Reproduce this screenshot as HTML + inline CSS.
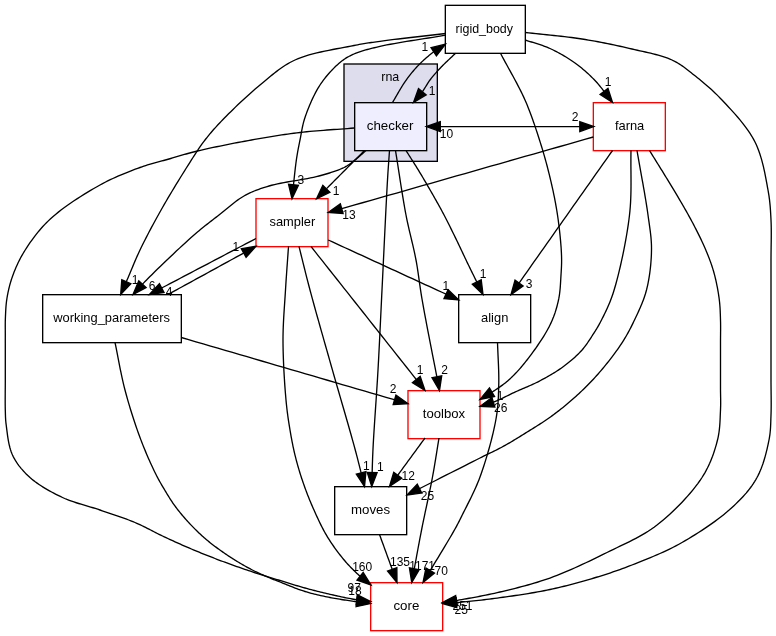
<!DOCTYPE html>
<html><head><meta charset="utf-8"><title>rna/checker directory dependency graph</title>
<style>html,body{margin:0;padding:0;background:#fff}svg{display:block;will-change:transform}text{font-family:"Liberation Sans",Arial,Helvetica,sans-serif;fill:#000}</style></head><body>
<svg width="776" height="636" viewBox="0 0 776 636">
<rect width="776" height="636" fill="#fff"/>
<rect x="344.00" y="64.00" width="93.33" height="97.33" fill="#ddddee" stroke="#000" stroke-width="1.333"/>
<text x="390.3" y="80.5" font-size="13.33" text-anchor="middle" textLength="18" lengthAdjust="spacingAndGlyphs">rna</text>
<rect x="445.33" y="5.33" width="80.00" height="48.00" fill="#fff" stroke="#000" stroke-width="1.333"/>
<text x="484.3" y="32.9" font-size="13.33" text-anchor="middle" textLength="57.4" lengthAdjust="spacingAndGlyphs">rigid_body</text>
<rect x="354.67" y="102.67" width="72.00" height="48.00" fill="#eeeeff" stroke="#000" stroke-width="1.333"/>
<text x="390.1" y="129.6" font-size="13.33" text-anchor="middle" textLength="46.7" lengthAdjust="spacingAndGlyphs">checker</text>
<rect x="593.33" y="102.67" width="72.00" height="48.00" fill="#fff" stroke="#f00" stroke-width="1.333"/>
<text x="629.6" y="129.6" font-size="13.33" text-anchor="middle" textLength="29.4" lengthAdjust="spacingAndGlyphs">farna</text>
<rect x="256.00" y="198.67" width="72.00" height="48.00" fill="#fff" stroke="#f00" stroke-width="1.333"/>
<text x="292.4" y="225.6" font-size="13.33" text-anchor="middle" textLength="45.8" lengthAdjust="spacingAndGlyphs">sampler</text>
<rect x="42.67" y="294.67" width="138.66" height="48.00" fill="#fff" stroke="#000" stroke-width="1.333"/>
<text x="111.6" y="321.6" font-size="13.33" text-anchor="middle" textLength="116.7" lengthAdjust="spacingAndGlyphs">working_parameters</text>
<rect x="458.67" y="294.67" width="72.00" height="48.00" fill="#fff" stroke="#000" stroke-width="1.333"/>
<text x="494.7" y="321.6" font-size="13.33" text-anchor="middle" textLength="27.3" lengthAdjust="spacingAndGlyphs">align</text>
<rect x="408.00" y="390.67" width="72.00" height="48.00" fill="#fff" stroke="#f00" stroke-width="1.333"/>
<text x="443.9" y="417.6" font-size="13.33" text-anchor="middle" textLength="42.3" lengthAdjust="spacingAndGlyphs">toolbox</text>
<rect x="334.67" y="486.67" width="72.00" height="48.00" fill="#fff" stroke="#000" stroke-width="1.333"/>
<text x="370.6" y="513.6" font-size="13.33" text-anchor="middle" textLength="39.1" lengthAdjust="spacingAndGlyphs">moves</text>
<rect x="370.67" y="582.67" width="72.00" height="48.00" fill="#fff" stroke="#f00" stroke-width="1.333"/>
<text x="406.4" y="609.8" font-size="13.33" text-anchor="middle" textLength="25.9" lengthAdjust="spacingAndGlyphs">core</text>
<g fill="none" stroke="#000" stroke-width="1.333">
<path d="M455.50,53.30 L454.56,54.20 L453.62,55.10 L452.66,56.01 L451.70,56.91 L450.74,57.82 L449.78,58.72 L448.81,59.63 L447.86,60.53 L446.90,61.44 L445.96,62.34 L445.03,63.24 L444.11,64.14 L443.20,65.03 L442.31,65.93 L441.45,66.81 L440.60,67.70 L439.87,68.48 L439.14,69.26 L438.43,70.03 L437.72,70.80 L437.02,71.57 L436.33,72.33 L435.66,73.10 L434.99,73.86 L434.33,74.63 L433.68,75.39 L433.04,76.15 L432.41,76.92 L431.80,77.69 L431.19,78.46 L430.59,79.23 L430.00,80.00 L429.47,80.72 L428.97,81.43 L428.48,82.15 L428.00,82.88 L427.54,83.60 L427.09,84.33 L426.64,85.06 L426.20,85.78 L425.76,86.51 L425.32,87.23 L424.87,87.95 L424.42,88.67 L423.96,89.38 L423.49,90.09 L423.00,90.80 L422.50,91.50 L422.37,91.67"/>
<polygon fill="#000" points="418.54,88.53 413.50,102.50 426.20,94.81"/>
<path d="M392.50,102.50 L393.33,101.12 L394.15,99.73 L394.98,98.33 L395.79,96.92 L396.61,95.50 L397.43,94.09 L398.25,92.67 L399.07,91.26 L399.89,89.86 L400.72,88.48 L401.55,87.10 L402.38,85.75 L403.23,84.42 L404.08,83.12 L404.93,81.84 L405.80,80.60 L406.57,79.52 L407.35,78.46 L408.12,77.42 L408.90,76.39 L409.68,75.38 L410.46,74.39 L411.25,73.40 L412.04,72.43 L412.84,71.47 L413.64,70.53 L414.46,69.59 L415.29,68.66 L416.12,67.74 L416.97,66.82 L417.83,65.91 L418.70,65.00 L419.59,64.09 L420.51,63.18 L421.44,62.28 L422.39,61.38 L423.35,60.49 L424.33,59.60 L425.31,58.72 L426.29,57.86 L427.28,57.01 L428.26,56.17 L429.24,55.36 L430.22,54.56 L431.18,53.78 L432.14,53.03 L433.08,52.30 L433.74,51.80"/>
<polygon fill="#000" points="436.43,55.95 445.50,44.20 431.05,47.64"/>
<path d="M445.50,35.20 L441.35,35.90 L437.11,36.59 L432.79,37.29 L428.42,37.98 L424.02,38.67 L419.61,39.36 L415.22,40.05 L410.86,40.75 L406.56,41.44 L402.35,42.14 L398.24,42.84 L394.25,43.54 L390.41,44.25 L386.74,44.96 L383.26,45.68 L380.00,46.40 L378.02,46.86 L376.10,47.31 L374.23,47.75 L372.42,48.19 L370.66,48.62 L368.95,49.06 L367.29,49.50 L365.67,49.94 L364.09,50.40 L362.55,50.86 L361.05,51.34 L359.58,51.83 L358.14,52.34 L356.74,52.87 L355.36,53.42 L354.00,54.00 L352.98,54.46 L351.99,54.91 L351.05,55.36 L350.13,55.80 L349.24,56.26 L348.38,56.72 L347.53,57.19 L346.70,57.68 L345.88,58.18 L345.06,58.71 L344.24,59.26 L343.42,59.84 L342.59,60.45 L341.74,61.09 L340.88,61.78 L340.00,62.50 L338.77,63.55 L337.52,64.66 L336.24,65.84 L334.94,67.07 L333.64,68.36 L332.32,69.71 L331.01,71.09 L329.70,72.52 L328.40,73.99 L327.11,75.50 L325.85,77.03 L324.61,78.59 L323.40,80.17 L322.22,81.77 L321.09,83.38 L320.00,85.00 L318.85,86.81 L317.72,88.70 L316.61,90.65 L315.52,92.66 L314.46,94.71 L313.43,96.80 L312.42,98.91 L311.45,101.04 L310.51,103.18 L309.60,105.31 L308.73,107.43 L307.90,109.53 L307.11,111.59 L306.36,113.62 L305.66,115.59 L305.00,117.50 L304.51,119.00 L304.07,120.48 L303.66,121.94 L303.28,123.39 L302.93,124.83 L302.61,126.25 L302.31,127.66 L302.03,129.06 L301.77,130.45 L301.51,131.84 L301.26,133.21 L301.02,134.58 L300.77,135.94 L300.52,137.30 L300.27,138.65 L300.00,140.00 L299.75,141.22 L299.51,142.40 L299.28,143.56 L299.05,144.69 L298.82,145.81 L298.60,146.93 L298.38,148.04 L298.17,149.15 L297.95,150.28 L297.74,151.42 L297.54,152.59 L297.33,153.79 L297.12,155.02 L296.92,156.30 L296.71,157.62 L296.50,159.00 L296.20,161.08 L295.91,163.27 L295.62,165.55 L295.33,167.91 L295.05,170.34 L294.77,172.83 L294.49,175.38 L294.21,177.96 L293.93,180.57 L293.66,183.20 L293.49,184.83"/>
<polygon fill="#000" points="288.57,184.30 292.00,198.75 298.41,185.36"/>
<path d="M445.50,33.50 L441.35,33.99 L437.11,34.48 L432.79,34.98 L428.43,35.48 L424.03,35.98 L419.63,36.49 L415.24,36.99 L410.88,37.49 L406.59,37.99 L402.38,38.48 L398.26,38.97 L394.28,39.45 L390.43,39.92 L386.76,40.39 L383.27,40.85 L380.00,41.30 L378.07,41.57 L376.25,41.82 L374.53,42.06 L372.90,42.29 L371.34,42.51 L369.83,42.73 L368.35,42.95 L366.89,43.17 L365.44,43.40 L363.97,43.64 L362.48,43.89 L360.94,44.16 L359.34,44.46 L357.66,44.78 L355.88,45.12 L354.00,45.50 L350.92,46.11 L347.62,46.73 L344.12,47.38 L340.46,48.05 L336.67,48.75 L332.77,49.49 L328.80,50.28 L324.79,51.11 L320.77,51.99 L316.77,52.92 L312.83,53.92 L308.97,54.98 L305.23,56.12 L301.63,57.33 L298.21,58.62 L295.00,60.00 L292.44,61.23 L289.98,62.52 L287.60,63.87 L285.29,65.27 L283.05,66.72 L280.87,68.22 L278.73,69.77 L276.62,71.35 L274.55,72.97 L272.49,74.62 L270.44,76.30 L268.39,78.00 L266.33,79.73 L264.25,81.47 L262.15,83.23 L260.00,85.00 L257.61,86.98 L255.17,89.05 L252.70,91.18 L250.21,93.38 L247.71,95.63 L245.21,97.90 L242.72,100.21 L240.24,102.52 L237.80,104.84 L235.41,107.14 L233.06,109.41 L230.78,111.65 L228.57,113.84 L226.45,115.97 L224.42,118.03 L222.50,120.00 L221.18,121.37 L219.90,122.71 L218.67,124.03 L217.47,125.32 L216.30,126.59 L215.17,127.84 L214.06,129.07 L212.98,130.30 L211.93,131.51 L210.90,132.72 L209.88,133.93 L208.89,135.13 L207.90,136.34 L206.93,137.55 L205.96,138.77 L205.00,140.00 L204.16,141.09 L203.37,142.14 L202.61,143.17 L201.87,144.18 L201.16,145.18 L200.46,146.17 L199.77,147.17 L199.08,148.18 L198.40,149.21 L197.70,150.26 L196.99,151.34 L196.26,152.47 L195.50,153.64 L194.71,154.86 L193.87,156.15 L193.00,157.50 L191.45,159.91 L189.78,162.52 L188.01,165.30 L186.16,168.24 L184.24,171.30 L182.27,174.48 L180.25,177.74 L178.20,181.07 L176.14,184.44 L174.08,187.84 L172.03,191.24 L170.02,194.62 L168.04,197.95 L166.12,201.23 L164.27,204.42 L162.50,207.50 L160.95,210.24 L159.40,212.99 L157.87,215.74 L156.35,218.49 L154.85,221.23 L153.36,223.96 L151.90,226.68 L150.46,229.38 L149.04,232.06 L147.65,234.72 L146.29,237.36 L144.96,239.96 L143.67,242.53 L142.41,245.06 L141.18,247.55 L140.00,250.00 L139.07,251.96 L138.17,253.92 L137.29,255.87 L136.43,257.80 L135.59,259.73 L134.77,261.63 L133.98,263.51 L133.20,265.37 L132.44,267.20 L131.69,269.00 L130.96,270.77 L130.24,272.50 L129.54,274.19 L128.85,275.84 L128.17,277.44 L127.50,279.00 L127.02,280.10 L126.55,281.17 L126.33,281.68"/>
<polygon fill="#000" points="121.80,279.69 120.70,294.50 130.86,283.67"/>
<path d="M525.30,40.00 L526.85,40.52 L528.39,41.03 L529.94,41.52 L531.50,42.00 L533.05,42.48 L534.60,42.96 L536.16,43.44 L537.71,43.93 L539.26,44.42 L540.80,44.94 L542.35,45.46 L543.89,46.01 L545.42,46.59 L546.96,47.19 L548.48,47.83 L550.00,48.50 L551.60,49.24 L553.20,50.01 L554.81,50.81 L556.42,51.63 L558.03,52.48 L559.63,53.35 L561.23,54.24 L562.83,55.15 L564.41,56.08 L565.98,57.03 L567.53,57.99 L569.07,58.97 L570.59,59.96 L572.08,60.97 L573.56,61.98 L575.00,63.00 L576.36,63.99 L577.71,64.99 L579.03,66.01 L580.34,67.04 L581.64,68.08 L582.91,69.14 L584.18,70.21 L585.43,71.29 L586.66,72.39 L587.89,73.50 L589.10,74.63 L590.30,75.77 L591.49,76.93 L592.67,78.10 L593.84,79.29 L595.00,80.50 L596.18,81.76 L597.34,83.06 L598.47,84.37 L599.59,85.71 L600.70,87.08 L601.79,88.45 L602.87,89.84 L603.94,91.25 L604.03,91.36"/>
<polygon fill="#000" points="600.09,94.35 612.50,102.50 607.97,88.36"/>
<path d="M500.50,53.30 L502.05,56.22 L503.62,59.15 L505.22,62.09 L506.83,65.03 L508.45,67.97 L510.07,70.91 L511.69,73.85 L513.30,76.79 L514.89,79.73 L516.46,82.65 L517.99,85.57 L519.49,88.49 L520.95,91.39 L522.36,94.27 L523.71,97.14 L525.00,100.00 L526.11,102.55 L527.18,105.09 L528.21,107.63 L529.21,110.15 L530.18,112.66 L531.12,115.17 L532.03,117.67 L532.92,120.17 L533.79,122.66 L534.64,125.14 L535.47,127.62 L536.29,130.10 L537.11,132.58 L537.91,135.05 L538.71,137.53 L539.50,140.00 L540.25,142.36 L540.99,144.72 L541.71,147.07 L542.43,149.42 L543.12,151.76 L543.81,154.10 L544.48,156.44 L545.14,158.78 L545.79,161.11 L546.42,163.45 L547.05,165.78 L547.66,168.12 L548.26,170.46 L548.85,172.80 L549.43,175.15 L550.00,177.50 L550.55,179.83 L551.10,182.16 L551.64,184.49 L552.16,186.82 L552.68,189.14 L553.18,191.47 L553.67,193.80 L554.15,196.14 L554.62,198.47 L555.07,200.81 L555.52,203.16 L555.94,205.51 L556.35,207.87 L556.75,210.24 L557.13,212.61 L557.50,215.00 L557.86,217.48 L558.22,220.02 L558.56,222.60 L558.89,225.21 L559.21,227.84 L559.52,230.49 L559.81,233.13 L560.08,235.76 L560.33,238.36 L560.57,240.93 L560.78,243.46 L560.98,245.92 L561.15,248.32 L561.29,250.64 L561.41,252.87 L561.50,255.00 L561.55,256.43 L561.58,257.81 L561.60,259.14 L561.61,260.43 L561.60,261.68 L561.59,262.90 L561.56,264.10 L561.52,265.29 L561.48,266.47 L561.43,267.64 L561.37,268.82 L561.30,270.01 L561.23,271.21 L561.16,272.44 L561.08,273.70 L561.00,275.00 L560.91,276.49 L560.82,278.00 L560.74,279.53 L560.65,281.07 L560.56,282.63 L560.46,284.20 L560.36,285.78 L560.24,287.37 L560.10,288.96 L559.95,290.55 L559.77,292.14 L559.58,293.73 L559.35,295.31 L559.10,296.89 L558.82,298.45 L558.50,300.00 L558.15,301.58 L557.78,303.14 L557.40,304.69 L557.00,306.24 L556.58,307.78 L556.13,309.31 L555.66,310.85 L555.17,312.39 L554.64,313.93 L554.08,315.47 L553.50,317.03 L552.87,318.59 L552.21,320.17 L551.52,321.76 L550.78,323.37 L550.00,325.00 L548.94,327.10 L547.78,329.26 L546.53,331.48 L545.21,333.74 L543.82,336.03 L542.37,338.33 L540.87,340.65 L539.34,342.96 L537.78,345.25 L536.21,347.53 L534.63,349.76 L533.05,351.95 L531.49,354.08 L529.96,356.14 L528.45,358.11 L527.00,360.00 L525.85,361.46 L524.71,362.89 L523.57,364.29 L522.43,365.66 L521.30,367.00 L520.16,368.32 L519.03,369.60 L517.89,370.86 L516.76,372.09 L515.62,373.29 L514.48,374.47 L513.33,375.62 L512.18,376.75 L511.03,377.86 L509.87,378.94 L508.70,380.00 L507.67,380.90 L506.63,381.79 L505.58,382.65 L504.52,383.48 L503.45,384.30 L502.38,385.10 L501.32,385.88 L500.25,386.64 L499.18,387.39 L498.12,388.12 L497.07,388.83 L496.03,389.53 L495.00,390.22 L493.98,390.89 L492.98,391.55 L492.00,392.20"/>
<polygon fill="#000" points="489.46,387.95 480.00,399.40 494.55,396.44"/>
<path d="M525.30,32.50 L528.85,32.90 L532.41,33.28 L535.99,33.66 L539.57,34.03 L543.15,34.39 L546.73,34.75 L550.32,35.12 L553.89,35.49 L557.46,35.87 L561.02,36.26 L564.57,36.66 L568.10,37.08 L571.61,37.52 L575.10,37.99 L578.56,38.48 L582.00,39.00 L585.23,39.52 L588.46,40.05 L591.68,40.61 L594.88,41.18 L598.08,41.77 L601.27,42.37 L604.44,42.99 L607.59,43.62 L610.72,44.26 L613.84,44.92 L616.93,45.58 L620.00,46.25 L623.04,46.93 L626.06,47.61 L629.04,48.30 L632.00,49.00 L634.66,49.62 L637.33,50.23 L640.00,50.82 L642.67,51.42 L645.32,52.01 L647.97,52.61 L650.58,53.22 L653.17,53.85 L655.72,54.49 L658.23,55.16 L660.69,55.87 L663.09,56.60 L665.43,57.38 L667.70,58.20 L669.89,59.07 L672.00,60.00 L673.62,60.78 L675.17,61.57 L676.66,62.39 L678.09,63.23 L679.49,64.10 L680.84,64.98 L682.17,65.88 L683.47,66.81 L684.76,67.76 L686.04,68.73 L687.32,69.72 L688.61,70.73 L689.91,71.77 L691.24,72.82 L692.60,73.90 L694.00,75.00 L695.69,76.33 L697.40,77.69 L699.13,79.07 L700.86,80.48 L702.61,81.92 L704.36,83.39 L706.13,84.90 L707.89,86.43 L709.66,88.00 L711.43,89.60 L713.20,91.24 L714.97,92.91 L716.74,94.62 L718.50,96.38 L720.25,98.17 L722.00,100.00 L724.11,102.25 L726.28,104.56 L728.50,106.94 L730.75,109.38 L733.01,111.88 L735.28,114.43 L737.54,117.03 L739.77,119.68 L741.96,122.37 L744.10,125.09 L746.17,127.85 L748.16,130.64 L750.05,133.45 L751.83,136.28 L753.48,139.13 L755.00,142.00 L756.34,144.82 L757.58,147.72 L758.73,150.70 L759.79,153.73 L760.77,156.82 L761.68,159.93 L762.52,163.07 L763.30,166.21 L764.02,169.34 L764.69,172.46 L765.32,175.54 L765.91,178.58 L766.46,181.55 L766.99,184.46 L767.50,187.28 L768.00,190.00 L768.36,192.04 L768.69,194.03 L768.99,195.96 L769.25,197.85 L769.49,199.70 L769.70,201.53 L769.89,203.34 L770.06,205.13 L770.22,206.92 L770.35,208.71 L770.48,210.52 L770.59,212.34 L770.70,214.20 L770.80,216.08 L770.90,218.02 L771.00,220.00 L771.10,222.34 L771.18,224.72 L771.23,227.14 L771.26,229.59 L771.27,232.07 L771.27,234.57 L771.26,237.10 L771.23,239.64 L771.20,242.19 L771.16,244.74 L771.12,247.30 L771.09,249.86 L771.05,252.42 L771.03,254.96 L771.01,257.49 L771.00,260.00 L771.00,262.50 L771.00,265.00 L771.00,267.50 L771.00,270.00 L771.00,272.50 L771.00,275.00 L771.00,277.50 L771.00,280.00 L771.00,282.50 L771.00,285.00 L771.00,287.50 L771.00,290.00 L771.00,292.50 L771.00,295.00 L771.00,297.50 L771.00,300.00 L771.00,302.50 L771.00,305.00 L771.00,307.50 L771.00,310.00 L771.00,312.50 L771.00,315.00 L771.00,317.50 L771.00,320.00 L771.00,322.50 L771.00,325.00 L771.00,327.50 L771.00,330.00 L771.00,332.50 L771.00,335.00 L771.00,337.50 L771.00,340.00 L771.00,342.50 L771.00,345.02 L771.00,347.54 L771.00,350.06 L771.00,352.59 L771.00,355.12 L771.00,357.64 L771.00,360.17 L771.00,362.68 L771.00,365.20 L771.00,367.70 L771.00,370.19 L771.00,372.67 L771.00,375.13 L771.00,377.57 L771.00,380.00 L771.00,382.26 L771.02,384.53 L771.04,386.79 L771.06,389.05 L771.09,391.31 L771.11,393.56 L771.14,395.79 L771.16,398.02 L771.18,400.22 L771.19,402.41 L771.19,404.58 L771.18,406.72 L771.16,408.84 L771.12,410.92 L771.07,412.98 L771.00,415.00 L770.94,416.67 L770.88,418.30 L770.83,419.89 L770.79,421.45 L770.74,422.98 L770.68,424.49 L770.61,426.00 L770.54,427.49 L770.44,428.99 L770.32,430.49 L770.18,432.01 L770.02,433.54 L769.82,435.10 L769.58,436.69 L769.31,438.33 L769.00,440.00 L768.56,442.17 L768.10,444.41 L767.59,446.71 L767.05,449.07 L766.47,451.46 L765.85,453.88 L765.19,456.33 L764.48,458.78 L763.73,461.24 L762.93,463.68 L762.07,466.10 L761.17,468.48 L760.21,470.83 L759.20,473.12 L758.13,475.35 L757.00,477.50 L755.82,479.58 L754.59,481.61 L753.31,483.60 L751.98,485.56 L750.60,487.48 L749.16,489.37 L747.68,491.23 L746.15,493.07 L744.56,494.89 L742.92,496.70 L741.23,498.50 L739.49,500.30 L737.70,502.09 L735.85,503.89 L733.95,505.69 L732.00,507.50 L729.45,509.79 L726.77,512.09 L723.95,514.40 L721.03,516.72 L718.01,519.03 L714.90,521.34 L711.72,523.63 L708.48,525.90 L705.19,528.14 L701.87,530.34 L698.53,532.51 L695.19,534.63 L691.85,536.69 L688.53,538.70 L685.24,540.64 L682.00,542.50 L678.93,544.21 L675.83,545.86 L672.70,547.47 L669.54,549.04 L666.36,550.56 L663.17,552.04 L659.98,553.49 L656.78,554.89 L653.59,556.26 L650.42,557.60 L647.26,558.90 L644.14,560.17 L641.04,561.42 L637.98,562.64 L634.96,563.83 L632.00,565.00 L629.51,565.97 L627.06,566.92 L624.65,567.83 L622.27,568.71 L619.91,569.56 L617.57,570.39 L615.24,571.20 L612.93,571.99 L610.61,572.77 L608.29,573.53 L605.97,574.29 L603.62,575.03 L601.26,575.78 L598.88,576.52 L596.46,577.26 L594.00,578.00 L591.36,578.79 L588.70,579.58 L586.02,580.36 L583.34,581.13 L580.63,581.89 L577.91,582.65 L575.18,583.39 L572.43,584.13 L569.67,584.85 L566.90,585.56 L564.12,586.26 L561.32,586.94 L558.51,587.60 L555.68,588.25 L552.85,588.89 L550.00,589.50 L546.97,590.13 L543.89,590.74 L540.77,591.33 L537.63,591.91 L534.46,592.47 L531.28,593.01 L528.09,593.54 L524.89,594.05 L521.70,594.55 L518.51,595.04 L515.35,595.51 L512.20,595.97 L509.09,596.42 L506.02,596.86 L502.98,597.28 L500.00,597.70 L497.35,598.06 L494.68,598.42 L492.00,598.77 L489.32,599.11 L486.64,599.44 L483.97,599.76 L481.33,600.07 L478.72,600.37 L476.14,600.66 L473.62,600.93 L471.16,601.20 L468.76,601.45 L466.43,601.68 L464.19,601.90 L462.05,602.11 L460.00,602.30 L458.71,602.42 L457.47,602.52 L456.47,602.60"/>
<polygon fill="#000" points="456.15,597.66 442.50,603.50 456.79,607.54"/>
<path d="M364.50,150.50 L362.95,152.06 L361.40,153.61 L359.85,155.17 L358.31,156.73 L356.76,158.28 L355.21,159.84 L353.66,161.40 L352.11,162.95 L350.56,164.51 L349.02,166.06 L347.47,167.62 L345.92,169.18 L344.37,170.73 L342.82,172.29 L341.27,173.85 L339.73,175.40 L338.18,176.96 L336.63,178.52 L335.08,180.07 L333.53,181.63 L331.98,183.19 L330.44,184.74 L328.89,186.30 L327.34,187.85 L326.37,188.82"/>
<polygon fill="#000" points="322.86,185.33 316.50,198.75 329.88,192.32"/>
<path d="M366.00,150.50 L365.31,151.10 L364.63,151.70 L363.94,152.31 L363.26,152.91 L362.58,153.53 L361.90,154.14 L361.21,154.75 L360.53,155.36 L359.85,155.96 L359.16,156.56 L358.47,157.16 L357.79,157.74 L357.09,158.32 L356.40,158.89 L355.70,159.45 L355.00,160.00 L354.34,160.51 L353.69,161.02 L353.05,161.52 L352.41,162.01 L351.78,162.50 L351.16,162.98 L350.52,163.45 L349.88,163.92 L349.23,164.39 L348.56,164.85 L347.87,165.30 L347.16,165.75 L346.42,166.19 L345.65,166.63 L344.84,167.07 L344.00,167.50 L342.76,168.10 L341.47,168.69 L340.13,169.26 L338.75,169.82 L337.32,170.37 L335.84,170.91 L334.33,171.44 L332.77,171.97 L331.17,172.49 L329.54,173.00 L327.86,173.51 L326.16,174.01 L324.42,174.51 L322.64,175.01 L320.84,175.50 L319.00,176.00 L316.33,176.67 L313.48,177.32 L310.47,177.94 L307.32,178.55 L304.08,179.13 L300.76,179.71 L297.38,180.29 L293.98,180.86 L290.58,181.44 L287.21,182.02 L283.89,182.62 L280.65,183.24 L277.51,183.89 L274.51,184.56 L271.66,185.26 L269.00,186.00 L267.17,186.55 L265.41,187.09 L263.70,187.63 L262.04,188.17 L260.42,188.71 L258.85,189.26 L257.31,189.82 L255.79,190.40 L254.30,191.00 L252.83,191.61 L251.36,192.26 L249.90,192.93 L248.44,193.64 L246.97,194.38 L245.50,195.17 L244.00,196.00 L242.38,196.95 L240.77,197.96 L239.18,199.02 L237.60,200.13 L236.03,201.28 L234.46,202.47 L232.91,203.68 L231.36,204.92 L229.81,206.17 L228.27,207.44 L226.73,208.72 L225.18,209.99 L223.64,211.27 L222.10,212.53 L220.55,213.77 L219.00,215.00 L217.44,216.21 L215.91,217.40 L214.39,218.57 L212.89,219.73 L211.39,220.88 L209.89,222.04 L208.40,223.20 L206.89,224.37 L205.38,225.57 L203.84,226.79 L202.29,228.04 L200.70,229.33 L199.09,230.67 L197.44,232.05 L195.74,233.50 L194.00,235.00 L191.40,237.28 L188.63,239.77 L185.70,242.42 L182.66,245.21 L179.53,248.12 L176.33,251.10 L173.10,254.14 L169.88,257.20 L166.67,260.26 L163.53,263.28 L160.47,266.23 L157.53,269.09 L154.73,271.83 L152.11,274.41 L149.69,276.81 L147.50,279.00 L146.35,280.17 L145.26,281.28 L144.23,282.35 L143.24,283.38 L142.48,284.19"/>
<polygon fill="#000" points="138.83,280.84 133.00,294.50 146.12,287.55"/>
<path d="M354.30,128.00 L350.90,128.27 L347.49,128.54 L344.07,128.79 L340.65,129.04 L337.22,129.29 L333.79,129.53 L330.37,129.78 L326.94,130.03 L323.53,130.29 L320.12,130.56 L316.73,130.84 L313.34,131.13 L309.98,131.44 L306.63,131.77 L303.30,132.12 L300.00,132.50 L296.89,132.88 L293.81,133.27 L290.76,133.67 L287.72,134.09 L284.71,134.52 L281.70,134.96 L278.71,135.41 L275.71,135.88 L272.72,136.36 L269.73,136.84 L266.73,137.34 L263.72,137.85 L260.70,138.38 L257.66,138.91 L254.59,139.45 L251.50,140.00 L248.17,140.60 L244.76,141.23 L241.29,141.87 L237.78,142.53 L234.24,143.21 L230.68,143.90 L227.12,144.60 L223.58,145.31 L220.06,146.03 L216.59,146.74 L213.18,147.46 L209.84,148.18 L206.58,148.90 L203.43,149.61 L200.40,150.31 L197.50,151.00 L195.46,151.50 L193.49,152.00 L191.58,152.50 L189.72,152.99 L187.91,153.49 L186.14,153.99 L184.39,154.48 L182.68,154.98 L180.98,155.47 L179.29,155.97 L177.61,156.47 L175.92,156.97 L174.22,157.48 L172.51,157.98 L170.77,158.49 L169.00,159.00 L167.20,159.51 L165.41,160.00 L163.63,160.49 L161.86,160.97 L160.08,161.44 L158.31,161.91 L156.54,162.39 L154.76,162.88 L152.97,163.38 L151.17,163.89 L149.36,164.42 L147.53,164.98 L145.68,165.56 L143.81,166.17 L141.92,166.82 L140.00,167.50 L137.66,168.36 L135.28,169.24 L132.88,170.14 L130.44,171.07 L127.99,172.03 L125.50,173.02 L123.00,174.04 L120.48,175.09 L117.95,176.19 L115.40,177.32 L112.85,178.49 L110.28,179.70 L107.71,180.95 L105.14,182.25 L102.57,183.60 L100.00,185.00 L96.94,186.72 L93.79,188.52 L90.57,190.41 L87.29,192.37 L83.99,194.40 L80.66,196.49 L77.34,198.63 L74.03,200.81 L70.76,203.03 L67.54,205.28 L64.39,207.55 L61.33,209.84 L58.37,212.14 L55.54,214.43 L52.84,216.72 L50.30,219.00 L48.33,220.86 L46.43,222.74 L44.58,224.64 L42.79,226.56 L41.06,228.49 L39.38,230.44 L37.76,232.40 L36.18,234.36 L34.66,236.33 L33.18,238.30 L31.75,240.27 L30.36,242.24 L29.01,244.20 L27.70,246.14 L26.43,248.08 L25.20,250.00 L24.19,251.61 L23.22,253.22 L22.29,254.83 L21.39,256.43 L20.52,258.03 L19.69,259.63 L18.88,261.23 L18.11,262.83 L17.36,264.42 L16.64,266.01 L15.94,267.60 L15.27,269.19 L14.62,270.77 L13.99,272.35 L13.39,273.93 L12.80,275.50 L12.29,276.92 L11.80,278.35 L11.33,279.77 L10.89,281.19 L10.46,282.61 L10.06,284.02 L9.68,285.44 L9.31,286.85 L8.97,288.26 L8.64,289.66 L8.33,291.06 L8.03,292.46 L7.75,293.85 L7.49,295.24 L7.24,296.62 L7.00,298.00 L6.80,299.28 L6.61,300.55 L6.45,301.83 L6.31,303.10 L6.18,304.37 L6.06,305.63 L5.96,306.90 L5.87,308.15 L5.80,309.41 L5.73,310.66 L5.66,311.90 L5.61,313.13 L5.55,314.36 L5.50,315.58 L5.45,316.80 L5.40,318.00 L5.36,319.10 L5.32,320.20 L5.30,321.29 L5.28,322.37 L5.27,323.45 L5.26,324.52 L5.26,325.59 L5.26,326.65 L5.27,327.71 L5.27,328.76 L5.28,329.81 L5.29,330.86 L5.29,331.90 L5.30,332.94 L5.30,333.97 L5.30,335.00 L5.30,335.95 L5.30,336.88 L5.29,337.80 L5.29,338.70 L5.29,339.58 L5.29,340.47 L5.29,341.35 L5.29,342.24 L5.30,343.13 L5.30,344.04 L5.30,344.96 L5.30,345.91 L5.30,346.88 L5.30,347.89 L5.30,348.92 L5.30,350.00 L5.30,351.59 L5.30,353.26 L5.30,354.99 L5.30,356.78 L5.30,358.61 L5.30,360.50 L5.30,362.41 L5.30,364.36 L5.30,366.32 L5.30,368.30 L5.30,370.28 L5.30,372.26 L5.30,374.23 L5.30,376.18 L5.30,378.11 L5.30,380.00 L5.30,381.89 L5.29,383.82 L5.28,385.77 L5.27,387.74 L5.25,389.72 L5.23,391.70 L5.22,393.68 L5.21,395.64 L5.20,397.59 L5.19,399.51 L5.19,401.39 L5.20,403.23 L5.21,405.01 L5.23,406.74 L5.26,408.41 L5.30,410.00 L5.33,411.07 L5.36,412.09 L5.38,413.06 L5.40,414.00 L5.43,414.90 L5.46,415.79 L5.49,416.65 L5.52,417.51 L5.57,418.37 L5.62,419.24 L5.68,420.12 L5.75,421.02 L5.84,421.96 L5.94,422.92 L6.06,423.94 L6.20,425.00 L6.41,426.61 L6.62,428.31 L6.84,430.10 L7.08,431.95 L7.33,433.86 L7.60,435.81 L7.90,437.79 L8.23,439.79 L8.59,441.80 L8.99,443.80 L9.44,445.79 L9.94,447.74 L10.49,449.65 L11.09,451.51 L11.76,453.29 L12.50,455.00 L13.27,456.59 L14.08,458.15 L14.95,459.68 L15.86,461.18 L16.81,462.66 L17.81,464.11 L18.85,465.54 L19.94,466.95 L21.06,468.33 L22.23,469.69 L23.43,471.04 L24.67,472.36 L25.95,473.67 L27.27,474.96 L28.62,476.24 L30.00,477.50 L31.66,478.94 L33.40,480.36 L35.22,481.76 L37.10,483.13 L39.04,484.48 L41.04,485.81 L43.08,487.11 L45.16,488.38 L47.28,489.63 L49.42,490.84 L51.58,492.03 L53.76,493.19 L55.95,494.32 L58.14,495.41 L60.33,496.47 L62.50,497.50 L64.72,498.50 L66.98,499.44 L69.28,500.33 L71.59,501.17 L73.94,501.98 L76.30,502.75 L78.67,503.50 L81.06,504.22 L83.45,504.93 L85.85,505.63 L88.24,506.33 L90.62,507.03 L92.99,507.74 L95.35,508.47 L97.69,509.22 L100.00,510.00 L102.23,510.77 L104.47,511.53 L106.72,512.29 L108.96,513.04 L111.20,513.80 L113.44,514.55 L115.67,515.31 L117.89,516.07 L120.10,516.84 L122.30,517.61 L124.47,518.40 L126.63,519.19 L128.76,520.00 L130.87,520.82 L132.95,521.65 L135.00,522.50 L136.83,523.29 L138.63,524.09 L140.40,524.91 L142.14,525.75 L143.86,526.59 L145.57,527.44 L147.26,528.30 L148.95,529.17 L150.63,530.03 L152.30,530.90 L153.98,531.77 L155.66,532.63 L157.35,533.48 L159.05,534.33 L160.76,535.17 L162.50,536.00 L164.28,536.83 L166.06,537.67 L167.84,538.50 L169.62,539.32 L171.41,540.15 L173.20,540.97 L175.00,541.79 L176.80,542.60 L178.60,543.41 L180.41,544.22 L182.22,545.03 L184.05,545.83 L185.87,546.63 L187.71,547.42 L189.55,548.21 L191.40,549.00 L193.32,549.81 L195.26,550.62 L197.20,551.42 L199.16,552.23 L201.12,553.02 L203.08,553.82 L205.06,554.61 L207.04,555.40 L209.02,556.18 L211.00,556.96 L212.99,557.73 L214.97,558.50 L216.96,559.26 L218.94,560.01 L220.92,560.76 L222.90,561.50 L224.86,562.23 L226.84,562.96 L228.82,563.68 L230.81,564.40 L232.80,565.11 L234.79,565.82 L236.78,566.53 L238.77,567.22 L240.76,567.92 L242.73,568.60 L244.70,569.27 L246.65,569.94 L248.59,570.59 L250.52,571.24 L252.42,571.88 L254.30,572.50 L255.97,573.05 L257.63,573.59 L259.27,574.12 L260.90,574.64 L262.52,575.15 L264.13,575.65 L265.73,576.14 L267.32,576.64 L268.91,577.12 L270.49,577.61 L272.07,578.09 L273.65,578.57 L275.24,579.05 L276.82,579.53 L278.41,580.01 L280.00,580.50 L281.57,580.98 L283.14,581.46 L284.70,581.95 L286.27,582.43 L287.83,582.91 L289.39,583.39 L290.95,583.87 L292.51,584.35 L294.07,584.82 L295.63,585.29 L297.19,585.75 L298.75,586.22 L300.31,586.67 L301.87,587.12 L303.43,587.56 L305.00,588.00 L306.56,588.43 L308.12,588.85 L309.68,589.27 L311.24,589.68 L312.80,590.09 L314.36,590.49 L315.92,590.89 L317.48,591.29 L319.05,591.68 L320.61,592.07 L322.17,592.45 L323.74,592.83 L325.30,593.20 L326.87,593.57 L328.43,593.94 L330.00,594.30 L331.57,594.66 L333.16,595.02 L334.76,595.38 L336.38,595.74 L338.00,596.10 L339.62,596.46 L341.24,596.81 L342.85,597.15 L344.45,597.49 L346.04,597.81 L347.61,598.13 L349.15,598.43 L350.67,598.72 L352.15,599.00 L353.59,599.26 L355.00,599.50 L356.07,599.68 L356.71,599.77"/>
<polygon fill="#000" points="356.10,604.69 370.60,601.50 357.32,594.86"/>
<path d="M389.50,150.50 L389.38,152.31 L389.25,154.06 L389.13,155.76 L389.01,157.44 L388.89,159.09 L388.78,160.74 L388.66,162.40 L388.54,164.08 L388.42,165.79 L388.29,167.56 L388.17,169.40 L388.04,171.31 L387.91,173.31 L387.78,175.41 L387.64,177.64 L387.50,180.00 L387.21,184.99 L386.91,190.52 L386.59,196.55 L386.26,202.99 L385.91,209.80 L385.56,216.90 L385.20,224.23 L384.83,231.72 L384.46,239.32 L384.09,246.96 L383.73,254.57 L383.36,262.09 L383.01,269.46 L382.66,276.61 L382.32,283.48 L382.00,290.00 L381.73,295.35 L381.48,300.61 L381.23,305.79 L380.98,310.91 L380.74,315.96 L380.50,320.95 L380.26,325.91 L380.02,330.83 L379.79,335.72 L379.55,340.60 L379.30,345.47 L379.06,350.34 L378.80,355.21 L378.55,360.11 L378.28,365.04 L378.00,370.00 L377.71,375.01 L377.40,380.10 L377.07,385.26 L376.73,390.47 L376.39,395.70 L376.03,400.94 L375.68,406.16 L375.33,411.35 L374.98,416.48 L374.64,421.53 L374.32,426.48 L374.01,431.31 L373.72,435.99 L373.45,440.52 L373.21,444.86 L373.00,449.00 L372.87,451.72 L372.76,454.35 L372.65,456.88 L372.56,459.34 L372.48,461.74 L372.40,464.07 L372.33,466.36 L372.26,468.61 L372.20,470.84 L372.15,472.51"/>
<polygon fill="#000" points="367.21,472.36 371.75,486.50 377.10,472.65"/>
<path d="M395.50,150.50 L396.15,154.55 L396.80,158.64 L397.45,162.76 L398.09,166.90 L398.73,171.05 L399.37,175.21 L400.01,179.36 L400.65,183.49 L401.30,187.60 L401.95,191.68 L402.61,195.72 L403.27,199.71 L403.94,203.64 L404.61,207.51 L405.30,211.29 L406.00,215.00 L406.60,218.05 L407.22,221.05 L407.86,224.00 L408.51,226.91 L409.17,229.78 L409.83,232.62 L410.50,235.43 L411.16,238.21 L411.82,240.97 L412.47,243.71 L413.11,246.44 L413.73,249.15 L414.34,251.87 L414.92,254.57 L415.47,257.28 L416.00,260.00 L416.45,262.48 L416.87,264.89 L417.26,267.24 L417.62,269.55 L417.96,271.83 L418.29,274.10 L418.61,276.37 L418.93,278.65 L419.25,280.95 L419.58,283.30 L419.92,285.70 L420.27,288.17 L420.66,290.72 L421.07,293.37 L421.51,296.12 L422.00,299.00 L422.82,303.67 L423.71,308.61 L424.66,313.79 L425.67,319.19 L426.73,324.77 L427.83,330.51 L428.96,336.38 L430.12,342.36 L431.30,348.41 L432.50,354.51 L433.69,360.62 L434.89,366.73 L436.08,372.80 L436.85,376.75"/>
<polygon fill="#000" points="431.99,377.69 439.50,390.50 441.71,375.82"/>
<path d="M406.00,150.50 L406.84,151.83 L407.68,153.16 L408.53,154.49 L409.37,155.83 L410.22,157.16 L411.07,158.49 L411.91,159.82 L412.76,161.15 L413.60,162.48 L414.44,163.82 L415.28,165.15 L416.12,166.48 L416.95,167.81 L417.77,169.14 L418.59,170.47 L419.40,171.80 L420.19,173.10 L420.97,174.40 L421.75,175.69 L422.52,176.99 L423.29,178.28 L424.05,179.57 L424.81,180.87 L425.57,182.16 L426.33,183.46 L427.08,184.75 L427.84,186.05 L428.59,187.35 L429.34,188.66 L430.09,189.97 L430.85,191.28 L431.60,192.60 L432.37,193.95 L433.14,195.29 L433.91,196.64 L434.68,197.99 L435.45,199.34 L436.21,200.70 L436.98,202.05 L437.75,203.42 L438.51,204.78 L439.27,206.15 L440.03,207.53 L440.79,208.91 L441.55,210.29 L442.30,211.69 L443.05,213.09 L443.80,214.50 L444.58,215.98 L445.35,217.47 L446.12,218.97 L446.89,220.47 L447.66,221.98 L448.42,223.50 L449.19,225.03 L449.95,226.56 L450.71,228.09 L451.47,229.63 L452.22,231.17 L452.98,232.71 L453.73,234.26 L454.49,235.81 L455.24,237.35 L456.00,238.90 L456.77,240.48 L457.53,242.05 L458.28,243.63 L459.03,245.20 L459.78,246.78 L460.53,248.36 L461.28,249.95 L462.03,251.53 L462.78,253.13 L463.54,254.73 L464.29,256.33 L465.06,257.95 L465.83,259.57 L466.61,261.20 L467.40,262.85 L468.20,264.50 L469.08,266.31 L469.97,268.14 L470.88,269.98 L471.79,271.84 L472.71,273.71 L473.63,275.58 L474.56,277.47 L475.50,279.36 L476.44,281.25 L476.79,281.95"/>
<polygon fill="#000" points="472.35,284.15 483.00,294.50 481.22,279.76"/>
<path d="M593.30,137.00 L584.75,139.44 L576.20,141.87 L567.65,144.31 L559.10,146.74 L550.55,149.18 L542.00,151.61 L533.45,154.05 L524.90,156.48 L516.35,158.92 L507.80,161.35 L499.25,163.79 L490.70,166.23 L482.15,168.66 L473.60,171.10 L465.05,173.53 L456.50,175.97 L447.95,178.40 L439.40,180.84 L430.85,183.27 L422.30,185.71 L413.75,188.15 L405.20,190.58 L396.65,193.02 L388.10,195.45 L379.55,197.89 L371.00,200.32 L362.45,202.76 L353.90,205.19 L345.35,207.63 L341.71,208.66"/>
<polygon fill="#000" points="340.36,203.90 328.25,212.50 343.07,213.43"/>
<path d="M612.50,150.50 L609.23,155.15 L605.95,159.79 L602.68,164.44 L599.40,169.08 L596.13,173.73 L592.85,178.37 L589.58,183.02 L586.31,187.66 L583.03,192.31 L579.76,196.95 L576.48,201.60 L573.21,206.24 L569.94,210.89 L566.66,215.53 L563.39,220.18 L560.11,224.82 L556.84,229.47 L553.56,234.11 L550.29,238.76 L547.02,243.40 L543.74,248.05 L540.47,252.69 L537.19,257.34 L533.92,261.98 L530.65,266.63 L527.37,271.27 L524.10,275.92 L520.82,280.56 L519.07,283.06"/>
<polygon fill="#000" points="515.02,280.21 511.00,294.50 523.11,285.91"/>
<path d="M631.00,150.50 L630.93,154.52 L630.90,158.53 L630.90,162.52 L630.91,166.51 L630.95,170.49 L630.98,174.47 L631.01,178.45 L631.02,182.44 L631.01,186.44 L630.97,190.45 L630.88,194.48 L630.74,198.52 L630.55,202.60 L630.28,206.70 L629.93,210.83 L629.50,215.00 L628.92,219.72 L628.25,224.60 L627.49,229.63 L626.65,234.75 L625.75,239.94 L624.78,245.16 L623.76,250.39 L622.69,255.59 L621.59,260.72 L620.46,265.75 L619.30,270.65 L618.14,275.38 L616.97,279.92 L615.80,284.22 L614.64,288.26 L613.50,292.00 L612.79,294.19 L612.07,296.30 L611.34,298.34 L610.59,300.31 L609.84,302.21 L609.08,304.06 L608.31,305.85 L607.55,307.58 L606.78,309.27 L606.01,310.90 L605.24,312.50 L604.48,314.06 L603.72,315.59 L602.97,317.08 L602.23,318.55 L601.50,320.00 L600.97,321.03 L600.46,322.03 L599.95,322.99 L599.45,323.92 L598.95,324.82 L598.45,325.69 L597.96,326.55 L597.46,327.40 L596.96,328.24 L596.45,329.07 L595.94,329.90 L595.42,330.73 L594.89,331.58 L594.34,332.43 L593.78,333.31 L593.20,334.20 L592.55,335.21 L591.89,336.24 L591.23,337.27 L590.56,338.31 L589.88,339.35 L589.19,340.40 L588.49,341.45 L587.78,342.50 L587.05,343.55 L586.30,344.59 L585.54,345.63 L584.76,346.67 L583.96,347.69 L583.13,348.71 L582.28,349.71 L581.40,350.70 L580.39,351.79 L579.35,352.88 L578.28,353.96 L577.18,355.03 L576.06,356.10 L574.91,357.16 L573.74,358.21 L572.55,359.26 L571.34,360.29 L570.11,361.31 L568.87,362.33 L567.61,363.33 L566.35,364.32 L565.07,365.29 L563.79,366.25 L562.50,367.20 L561.14,368.18 L559.75,369.14 L558.34,370.09 L556.91,371.03 L555.47,371.95 L554.00,372.87 L552.53,373.77 L551.04,374.65 L549.54,375.53 L548.04,376.39 L546.53,377.24 L545.02,378.08 L543.51,378.90 L542.00,379.71 L540.50,380.51 L539.00,381.30 L537.54,382.05 L536.08,382.77 L534.61,383.48 L533.13,384.16 L531.65,384.84 L530.16,385.50 L528.67,386.15 L527.19,386.79 L525.70,387.42 L524.21,388.06 L522.73,388.69 L521.25,389.32 L519.78,389.95 L518.31,390.59 L516.85,391.24 L515.40,391.90 L514.00,392.55 L512.59,393.22 L511.17,393.91 L509.75,394.60 L508.33,395.30 L506.91,396.00 L505.50,396.70 L504.09,397.40 L502.70,398.08 L501.32,398.74 L499.96,399.39 L498.62,400.02 L497.30,400.61 L496.00,401.18 L494.74,401.71 L493.50,402.20 L493.40,402.24"/>
<polygon fill="#000" points="491.96,397.50 480.00,406.30 494.83,406.98"/>
<path d="M637.00,150.50 L637.70,154.57 L638.42,158.69 L639.17,162.87 L639.92,167.08 L640.68,171.31 L641.44,175.54 L642.20,179.76 L642.95,183.96 L643.68,188.12 L644.40,192.23 L645.09,196.27 L645.76,200.24 L646.38,204.10 L646.97,207.86 L647.51,211.50 L648.00,215.00 L648.34,217.47 L648.68,219.86 L649.01,222.17 L649.33,224.43 L649.64,226.63 L649.94,228.79 L650.22,230.91 L650.48,233.01 L650.72,235.09 L650.94,237.16 L651.12,239.24 L651.27,241.33 L651.39,243.44 L651.47,245.59 L651.51,247.77 L651.50,250.00 L651.45,252.44 L651.37,254.92 L651.25,257.44 L651.09,259.98 L650.90,262.54 L650.68,265.11 L650.42,267.69 L650.12,270.26 L649.79,272.83 L649.42,275.39 L649.02,277.92 L648.59,280.42 L648.12,282.89 L647.61,285.31 L647.07,287.68 L646.50,290.00 L645.95,292.03 L645.36,294.04 L644.72,296.03 L644.05,297.99 L643.35,299.93 L642.62,301.84 L641.87,303.74 L641.09,305.61 L640.29,307.47 L639.48,309.31 L638.66,311.13 L637.83,312.93 L637.00,314.72 L636.16,316.50 L635.33,318.25 L634.50,320.00 L633.75,321.57 L633.01,323.11 L632.27,324.62 L631.53,326.11 L630.79,327.58 L630.04,329.04 L629.28,330.48 L628.50,331.92 L627.71,333.35 L626.91,334.78 L626.08,336.22 L625.22,337.66 L624.34,339.12 L623.43,340.59 L622.48,342.08 L621.50,343.60 L620.27,345.45 L618.98,347.34 L617.64,349.26 L616.26,351.20 L614.83,353.16 L613.37,355.13 L611.88,357.10 L610.36,359.08 L608.82,361.05 L607.27,363.01 L605.71,364.95 L604.14,366.87 L602.57,368.76 L601.00,370.62 L599.44,372.43 L597.90,374.20 L596.47,375.81 L595.03,377.40 L593.59,378.97 L592.14,380.52 L590.68,382.05 L589.22,383.56 L587.75,385.05 L586.27,386.53 L584.79,387.99 L583.30,389.43 L581.81,390.86 L580.32,392.28 L578.82,393.68 L577.32,395.06 L575.81,396.44 L574.30,397.80 L572.86,399.08 L571.42,400.35 L569.97,401.60 L568.52,402.84 L567.07,404.06 L565.61,405.28 L564.14,406.47 L562.67,407.66 L561.20,408.83 L559.73,409.99 L558.25,411.14 L556.77,412.27 L555.28,413.40 L553.79,414.51 L552.30,415.61 L550.80,416.70 L549.35,417.74 L547.89,418.76 L546.43,419.76 L544.97,420.75 L543.50,421.73 L542.03,422.69 L540.55,423.65 L539.07,424.59 L537.59,425.53 L536.11,426.46 L534.62,427.39 L533.14,428.31 L531.65,429.23 L530.17,430.15 L528.68,431.08 L527.20,432.00 L525.73,432.92 L524.27,433.83 L522.80,434.75 L521.33,435.67 L519.86,436.58 L518.39,437.49 L516.92,438.39 L515.45,439.29 L513.97,440.19 L512.50,441.07 L511.02,441.95 L509.54,442.82 L508.06,443.68 L506.58,444.54 L505.09,445.37 L503.60,446.20 L502.16,446.98 L500.76,447.73 L499.39,448.45 L498.04,449.14 L496.70,449.82 L495.35,450.48 L494.01,451.15 L492.64,451.81 L491.25,452.49 L489.82,453.18 L488.35,453.89 L486.82,454.63 L485.23,455.40 L483.57,456.22 L481.83,457.08 L480.00,458.00 L476.54,459.74 L472.79,461.63 L468.79,463.66 L464.57,465.80 L460.15,468.03 L455.56,470.36 L450.84,472.76 L446.01,475.21 L441.10,477.70 L436.14,480.22 L431.16,482.74 L426.19,485.27 L421.26,487.77 L419.49,488.67"/>
<polygon fill="#000" points="417.25,484.25 407.00,495.00 421.72,493.08"/>
<path d="M649.50,150.50 L650.54,152.19 L651.59,153.87 L652.64,155.56 L653.68,157.24 L654.73,158.93 L655.77,160.61 L656.82,162.29 L657.87,163.98 L658.91,165.66 L659.96,167.35 L661.00,169.04 L662.04,170.72 L663.09,172.42 L664.13,174.11 L665.16,175.80 L666.20,177.50 L667.25,179.22 L668.30,180.94 L669.36,182.68 L670.42,184.43 L671.49,186.18 L672.55,187.94 L673.62,189.69 L674.67,191.44 L675.73,193.19 L676.77,194.92 L677.80,196.65 L678.81,198.36 L679.82,200.05 L680.80,201.73 L681.76,203.38 L682.70,205.00 L683.49,206.38 L684.27,207.74 L685.04,209.07 L685.79,210.39 L686.53,211.69 L687.26,212.99 L687.98,214.27 L688.70,215.55 L689.40,216.83 L690.11,218.11 L690.81,219.40 L691.50,220.69 L692.20,221.99 L692.90,223.31 L693.60,224.64 L694.30,226.00 L695.04,227.45 L695.79,228.91 L696.55,230.38 L697.30,231.87 L698.05,233.37 L698.80,234.87 L699.55,236.38 L700.29,237.90 L701.02,239.41 L701.74,240.94 L702.46,242.46 L703.16,243.97 L703.84,245.49 L704.51,247.00 L705.17,248.50 L705.80,250.00 L706.39,251.41 L706.96,252.81 L707.53,254.20 L708.09,255.59 L708.63,256.97 L709.17,258.35 L709.69,259.73 L710.21,261.12 L710.71,262.51 L711.20,263.90 L711.68,265.30 L712.15,266.72 L712.61,268.14 L713.05,269.58 L713.48,271.03 L713.90,272.50 L714.33,274.09 L714.75,275.70 L715.16,277.35 L715.56,279.01 L715.94,280.68 L716.32,282.37 L716.67,284.06 L717.02,285.76 L717.35,287.46 L717.66,289.16 L717.96,290.84 L718.24,292.51 L718.51,294.17 L718.76,295.81 L718.99,297.42 L719.20,299.00 L719.37,300.37 L719.52,301.73 L719.66,303.06 L719.78,304.38 L719.88,305.69 L719.98,307.00 L720.06,308.29 L720.13,309.58 L720.19,310.87 L720.24,312.15 L720.29,313.44 L720.34,314.73 L720.38,316.03 L720.42,317.34 L720.46,318.66 L720.50,320.00 L720.54,321.41 L720.57,322.83 L720.59,324.25 L720.60,325.69 L720.60,327.13 L720.60,328.57 L720.60,330.02 L720.59,331.47 L720.57,332.92 L720.56,334.37 L720.55,335.81 L720.53,337.26 L720.52,338.70 L720.51,340.14 L720.50,341.57 L720.50,343.00 L720.50,344.39 L720.50,345.77 L720.50,347.15 L720.50,348.52 L720.50,349.89 L720.50,351.26 L720.50,352.63 L720.50,354.00 L720.50,355.37 L720.50,356.74 L720.50,358.11 L720.50,359.48 L720.50,360.85 L720.50,362.23 L720.50,363.61 L720.50,365.00 L720.50,366.42 L720.50,367.85 L720.50,369.29 L720.50,370.73 L720.50,372.17 L720.50,373.61 L720.50,375.05 L720.50,376.50 L720.50,377.95 L720.50,379.39 L720.50,380.83 L720.50,382.27 L720.50,383.71 L720.50,385.15 L720.50,386.58 L720.50,388.00 L720.50,389.38 L720.52,390.75 L720.53,392.11 L720.56,393.46 L720.58,394.80 L720.60,396.14 L720.63,397.48 L720.65,398.82 L720.66,400.17 L720.67,401.53 L720.67,402.89 L720.67,404.28 L720.65,405.68 L720.61,407.09 L720.56,408.53 L720.50,410.00 L720.42,411.75 L720.35,413.52 L720.27,415.31 L720.20,417.13 L720.12,418.96 L720.03,420.82 L719.93,422.69 L719.80,424.58 L719.65,426.48 L719.47,428.39 L719.25,430.31 L719.00,432.24 L718.70,434.18 L718.36,436.12 L717.96,438.06 L717.50,440.00 L716.92,442.26 L716.30,444.55 L715.64,446.85 L714.94,449.17 L714.20,451.51 L713.41,453.85 L712.56,456.21 L711.65,458.57 L710.69,460.94 L709.67,463.32 L708.57,465.69 L707.41,468.06 L706.18,470.43 L704.87,472.80 L703.47,475.15 L702.00,477.50 L699.98,480.51 L697.79,483.57 L695.44,486.68 L692.95,489.82 L690.33,492.98 L687.59,496.14 L684.75,499.30 L681.82,502.43 L678.82,505.52 L675.77,508.56 L672.67,511.54 L669.53,514.44 L666.39,517.25 L663.24,519.96 L660.11,522.54 L657.00,525.00 L654.09,527.17 L651.15,529.24 L648.16,531.21 L645.14,533.09 L642.09,534.90 L639.01,536.64 L635.89,538.32 L632.76,539.96 L629.59,541.56 L626.41,543.13 L623.21,544.68 L619.99,546.22 L616.76,547.77 L613.51,549.32 L610.26,550.89 L607.00,552.50 L603.57,554.20 L600.09,555.92 L596.58,557.64 L593.03,559.36 L589.47,561.07 L585.88,562.77 L582.27,564.46 L578.66,566.12 L575.04,567.76 L571.42,569.36 L567.81,570.93 L564.20,572.45 L560.62,573.92 L557.05,575.34 L553.51,576.70 L550.00,578.00 L546.82,579.13 L543.64,580.21 L540.46,581.24 L537.28,582.24 L534.11,583.20 L530.95,584.12 L527.80,585.01 L524.66,585.87 L521.52,586.71 L518.40,587.51 L515.29,588.30 L512.20,589.07 L509.12,589.82 L506.06,590.56 L503.02,591.28 L500.00,592.00 L497.22,592.65 L494.40,593.28 L491.54,593.90 L488.66,594.51 L485.77,595.10 L482.89,595.68 L480.04,596.24 L477.21,596.78 L474.44,597.30 L471.73,597.80 L469.09,598.28 L466.54,598.73 L464.09,599.16 L461.76,599.57 L459.56,599.95 L457.50,600.30 L456.36,600.49"/>
<polygon fill="#000" points="455.65,595.59 442.50,602.50 457.07,605.39"/>
<path d="M256.00,238.50 L252.56,240.31 L249.12,242.11 L245.67,243.92 L242.23,245.73 L238.79,247.53 L235.35,249.34 L231.91,251.15 L228.46,252.95 L225.02,254.76 L221.58,256.56 L218.14,258.37 L214.70,260.18 L211.25,261.98 L207.81,263.79 L204.37,265.60 L200.93,267.40 L197.49,269.21 L194.05,271.02 L190.60,272.82 L187.16,274.63 L183.72,276.44 L180.28,278.24 L176.84,280.05 L173.39,281.85 L169.95,283.66 L166.51,285.47 L163.07,287.27 L161.70,287.99"/>
<polygon fill="#000" points="159.40,283.61 149.30,294.50 164.00,292.38"/>
<path d="M168.00,294.50 L170.84,292.95 L173.68,291.39 L176.52,289.84 L179.35,288.28 L182.19,286.73 L185.03,285.17 L187.87,283.62 L190.71,282.06 L193.55,280.51 L196.39,278.95 L199.23,277.40 L202.06,275.84 L204.90,274.29 L207.74,272.73 L210.58,271.18 L213.42,269.62 L216.26,268.07 L219.10,266.51 L221.94,264.96 L224.77,263.40 L227.61,261.85 L230.45,260.29 L233.29,258.74 L236.13,257.18 L238.97,255.63 L241.81,254.07 L243.72,253.03"/>
<polygon fill="#000" points="246.10,257.37 256.00,246.30 241.34,248.68"/>
<path d="M328.25,240.00 L332.46,241.94 L336.67,243.87 L340.88,245.81 L345.09,247.74 L349.30,249.68 L353.51,251.61 L357.72,253.55 L361.93,255.48 L366.14,257.42 L370.35,259.35 L374.56,261.29 L378.77,263.23 L382.98,265.16 L387.19,267.10 L391.40,269.03 L395.60,270.97 L399.81,272.90 L404.02,274.84 L408.23,276.77 L412.44,278.71 L416.65,280.65 L420.86,282.58 L425.07,284.52 L429.28,286.45 L433.49,288.39 L437.70,290.32 L441.91,292.26 L446.03,294.15"/>
<polygon fill="#000" points="443.96,298.65 458.75,300.00 448.10,289.65"/>
<path d="M311.00,246.50 L314.68,251.15 L318.35,255.79 L322.03,260.44 L325.71,265.08 L329.39,269.73 L333.06,274.37 L336.74,279.02 L340.42,283.66 L344.10,288.31 L347.77,292.95 L351.45,297.60 L355.13,302.24 L358.81,306.89 L362.48,311.53 L366.16,316.18 L369.84,320.82 L373.52,325.47 L377.19,330.11 L380.87,334.76 L384.55,339.40 L388.23,344.05 L391.90,348.69 L395.58,353.34 L399.26,357.98 L402.94,362.63 L406.61,367.27 L410.29,371.92 L413.97,376.56 L416.31,379.52"/>
<polygon fill="#000" points="412.43,382.60 425.00,390.50 420.19,376.45"/>
<path d="M299.00,246.50 L299.68,249.20 L300.35,251.86 L301.00,254.49 L301.65,257.10 L302.29,259.70 L302.94,262.30 L303.58,264.91 L304.23,267.53 L304.89,270.17 L305.56,272.84 L306.25,275.55 L306.95,278.31 L307.67,281.13 L308.42,284.01 L309.20,286.96 L310.00,290.00 L311.11,294.13 L312.26,298.38 L313.46,302.76 L314.69,307.24 L315.96,311.81 L317.26,316.47 L318.59,321.19 L319.94,325.98 L321.30,330.81 L322.68,335.68 L324.07,340.58 L325.46,345.48 L326.86,350.39 L328.25,355.29 L329.63,360.16 L331.00,365.00 L332.47,370.18 L333.99,375.50 L335.55,380.93 L337.15,386.45 L338.76,392.02 L340.38,397.61 L342.00,403.21 L343.62,408.78 L345.21,414.29 L346.78,419.73 L348.30,425.04 L349.78,430.22 L351.20,435.24 L352.55,440.06 L353.82,444.65 L355.00,449.00 L355.74,451.75 L356.43,454.39 L357.10,456.94 L357.74,459.41 L358.35,461.80 L358.94,464.14 L359.51,466.42 L360.07,468.67 L360.62,470.89 L361.12,472.91"/>
<polygon fill="#000" points="356.32,474.11 364.50,486.50 365.93,471.72"/>
<path d="M288.50,246.50 L288.31,249.21 L288.12,251.92 L287.93,254.61 L287.73,257.30 L287.54,259.99 L287.35,262.68 L287.15,265.37 L286.96,268.06 L286.77,270.76 L286.58,273.46 L286.39,276.18 L286.20,278.91 L286.02,281.65 L285.84,284.42 L285.67,287.20 L285.50,290.00 L285.31,293.02 L285.12,296.05 L284.91,299.09 L284.71,302.15 L284.50,305.21 L284.29,308.29 L284.09,311.39 L283.89,314.50 L283.71,317.62 L283.54,320.76 L283.39,323.92 L283.26,327.10 L283.15,330.29 L283.07,333.51 L283.02,336.74 L283.00,340.00 L283.02,343.64 L283.07,347.38 L283.15,351.21 L283.26,355.10 L283.39,359.04 L283.55,363.01 L283.73,366.99 L283.93,370.95 L284.15,374.89 L284.39,378.78 L284.63,382.60 L284.89,386.33 L285.16,389.96 L285.44,393.46 L285.72,396.81 L286.00,400.00 L286.20,402.17 L286.41,404.26 L286.63,406.30 L286.85,408.28 L287.08,410.21 L287.31,412.10 L287.55,413.95 L287.79,415.77 L288.05,417.57 L288.30,419.35 L288.57,421.12 L288.84,422.88 L289.12,424.64 L289.41,426.41 L289.70,428.20 L290.00,430.00 L290.29,431.72 L290.58,433.42 L290.88,435.12 L291.18,436.80 L291.49,438.48 L291.80,440.15 L292.12,441.82 L292.45,443.48 L292.78,445.13 L293.12,446.79 L293.48,448.44 L293.84,450.09 L294.21,451.74 L294.59,453.39 L294.99,455.04 L295.40,456.70 L295.83,458.38 L296.26,460.06 L296.71,461.73 L297.16,463.41 L297.63,465.08 L298.11,466.75 L298.59,468.42 L299.09,470.09 L299.59,471.76 L300.11,473.43 L300.64,475.10 L301.17,476.76 L301.71,478.42 L302.27,480.08 L302.83,481.74 L303.40,483.40 L303.99,485.08 L304.59,486.76 L305.20,488.44 L305.82,490.12 L306.44,491.79 L307.08,493.46 L307.73,495.14 L308.39,496.81 L309.05,498.48 L309.73,500.14 L310.42,501.81 L311.11,503.47 L311.82,505.13 L312.54,506.79 L313.26,508.45 L314.00,510.10 L314.76,511.79 L315.52,513.48 L316.29,515.18 L317.07,516.87 L317.86,518.57 L318.65,520.27 L319.46,521.96 L320.28,523.65 L321.11,525.33 L321.96,527.00 L322.82,528.67 L323.70,530.32 L324.60,531.96 L325.51,533.59 L326.45,535.20 L327.40,536.80 L328.37,538.38 L329.38,539.96 L330.40,541.55 L331.44,543.12 L332.51,544.69 L333.59,546.25 L334.68,547.80 L335.79,549.34 L336.90,550.85 L338.03,552.35 L339.16,553.83 L340.29,555.28 L341.42,556.71 L342.55,558.10 L343.68,559.47 L344.80,560.80 L345.79,561.94 L346.79,563.07 L347.80,564.19 L348.82,565.29 L349.84,566.38 L350.87,567.44 L351.91,568.49 L352.94,569.52 L353.96,570.53 L354.98,571.51 L355.99,572.48 L356.99,573.41 L357.97,574.33 L358.93,575.21 L359.88,576.07 L360.07,576.25"/>
<polygon fill="#000" points="356.98,580.11 371.00,585.00 363.17,572.38"/>
<path d="M181.30,337.50 L188.61,339.64 L195.93,341.77 L203.24,343.91 L210.55,346.05 L217.86,348.19 L225.18,350.32 L232.49,352.46 L239.80,354.60 L247.12,356.73 L254.43,358.87 L261.74,361.01 L269.05,363.15 L276.37,365.28 L283.68,367.42 L290.99,369.56 L298.31,371.69 L305.62,373.83 L312.93,375.97 L320.25,378.10 L327.56,380.24 L334.87,382.38 L342.18,384.52 L349.50,386.65 L356.81,388.79 L364.12,390.93 L371.44,393.06 L378.75,395.20 L386.06,397.34 L393.37,399.48 L394.56,399.82"/>
<polygon fill="#000" points="393.17,404.57 408.00,403.75 395.95,395.07"/>
<path d="M115.00,342.50 L115.62,345.47 L116.22,348.44 L116.81,351.41 L117.39,354.39 L117.96,357.36 L118.54,360.34 L119.12,363.31 L119.70,366.29 L120.29,369.26 L120.90,372.23 L121.52,375.20 L122.16,378.17 L122.83,381.13 L123.52,384.09 L124.24,387.05 L125.00,390.00 L125.80,393.00 L126.62,396.02 L127.48,399.06 L128.35,402.11 L129.25,405.16 L130.16,408.21 L131.10,411.25 L132.05,414.29 L133.01,417.30 L133.99,420.30 L134.98,423.27 L135.97,426.20 L136.98,429.10 L137.98,431.95 L138.99,434.75 L140.00,437.50 L140.89,439.88 L141.80,442.25 L142.73,444.62 L143.67,446.97 L144.62,449.31 L145.58,451.62 L146.54,453.91 L147.51,456.17 L148.47,458.39 L149.44,460.56 L150.39,462.70 L151.34,464.78 L152.28,466.80 L153.20,468.77 L154.11,470.67 L155.00,472.50 L155.63,473.78 L156.25,475.01 L156.86,476.20 L157.47,477.35 L158.06,478.48 L158.66,479.57 L159.25,480.65 L159.83,481.70 L160.42,482.74 L161.02,483.77 L161.61,484.80 L162.21,485.82 L162.82,486.85 L163.44,487.89 L164.06,488.93 L164.70,490.00 L165.35,491.08 L165.99,492.16 L166.64,493.23 L167.29,494.30 L167.94,495.36 L168.59,496.43 L169.25,497.49 L169.92,498.55 L170.60,499.61 L171.28,500.66 L171.98,501.72 L172.69,502.78 L173.42,503.83 L174.16,504.89 L174.92,505.94 L175.70,507.00 L176.57,508.16 L177.47,509.33 L178.39,510.50 L179.33,511.68 L180.29,512.86 L181.26,514.03 L182.25,515.21 L183.25,516.38 L184.26,517.55 L185.27,518.71 L186.29,519.86 L187.31,521.00 L188.34,522.12 L189.36,523.23 L190.38,524.33 L191.40,525.40 L192.36,526.40 L193.33,527.40 L194.30,528.38 L195.27,529.36 L196.25,530.32 L197.23,531.28 L198.21,532.23 L199.20,533.16 L200.19,534.09 L201.18,535.01 L202.18,535.92 L203.18,536.81 L204.18,537.70 L205.18,538.58 L206.19,539.44 L207.20,540.30 L208.16,541.10 L209.13,541.89 L210.10,542.68 L211.07,543.44 L212.04,544.20 L213.02,544.95 L214.00,545.70 L214.98,546.43 L215.97,547.16 L216.96,547.88 L217.94,548.59 L218.93,549.30 L219.92,550.01 L220.91,550.71 L221.91,551.40 L222.90,552.10 L223.87,552.78 L224.84,553.45 L225.82,554.11 L226.79,554.77 L227.77,555.43 L228.75,556.08 L229.73,556.72 L230.71,557.36 L231.69,558.00 L232.67,558.63 L233.66,559.25 L234.64,559.87 L235.63,560.49 L236.62,561.10 L237.61,561.70 L238.60,562.30 L239.57,562.88 L240.54,563.46 L241.52,564.03 L242.49,564.60 L243.47,565.17 L244.45,565.72 L245.43,566.28 L246.41,566.83 L247.39,567.37 L248.37,567.91 L249.36,568.44 L250.34,568.96 L251.33,569.48 L252.32,570.00 L253.31,570.50 L254.30,571.00 L255.28,571.48 L256.27,571.96 L257.27,572.44 L258.28,572.91 L259.30,573.37 L260.31,573.83 L261.33,574.28 L262.34,574.73 L263.35,575.17 L264.35,575.60 L265.34,576.02 L266.31,576.44 L267.26,576.84 L268.20,577.24 L269.11,577.62 L270.00,578.00 L270.68,578.28 L271.32,578.55 L271.94,578.81 L272.54,579.06 L273.13,579.30 L273.71,579.53 L274.28,579.76 L274.85,579.99 L275.43,580.21 L276.01,580.44 L276.61,580.68 L277.23,580.92 L277.87,581.17 L278.55,581.43 L279.25,581.71 L280.00,582.00 L281.25,582.49 L282.58,583.02 L283.98,583.59 L285.44,584.18 L286.96,584.79 L288.52,585.43 L290.13,586.07 L291.76,586.72 L293.42,587.37 L295.09,588.02 L296.77,588.65 L298.45,589.27 L300.12,589.87 L301.77,590.45 L303.40,590.99 L305.00,591.50 L306.55,591.97 L308.10,592.42 L309.65,592.86 L311.21,593.28 L312.77,593.68 L314.33,594.08 L315.89,594.46 L317.46,594.83 L319.02,595.19 L320.59,595.54 L322.16,595.88 L323.73,596.22 L325.29,596.54 L326.86,596.87 L328.43,597.19 L330.00,597.50 L331.57,597.81 L333.16,598.10 L334.76,598.39 L336.37,598.68 L337.99,598.95 L339.62,599.21 L341.24,599.47 L342.85,599.72 L344.46,599.97 L346.04,600.21 L347.61,600.44 L349.16,600.66 L350.67,600.88 L352.15,601.09 L353.60,601.30 L355.00,601.50 L356.07,601.65 L356.71,601.74"/>
<polygon fill="#000" points="356.09,606.65 370.60,603.50 357.33,596.83"/>
<path d="M497.50,342.00 L497.59,344.70 L497.69,347.41 L497.80,350.14 L497.92,352.87 L498.04,355.61 L498.17,358.35 L498.29,361.09 L498.41,363.82 L498.52,366.54 L498.62,369.25 L498.70,371.94 L498.76,374.61 L498.80,377.25 L498.81,379.87 L498.80,382.45 L498.75,385.00 L498.69,387.22 L498.63,389.39 L498.57,391.51 L498.51,393.59 L498.43,395.64 L498.34,397.68 L498.23,399.71 L498.10,401.73 L497.95,403.77 L497.78,405.82 L497.57,407.90 L497.33,410.01 L497.06,412.17 L496.75,414.38 L496.40,416.65 L496.00,419.00 L495.40,422.25 L494.71,425.64 L493.95,429.17 L493.12,432.80 L492.23,436.51 L491.28,440.29 L490.28,444.11 L489.23,447.96 L488.14,451.80 L487.03,455.63 L485.88,459.42 L484.72,463.14 L483.55,466.78 L482.36,470.32 L481.18,473.73 L480.00,477.00 L479.00,479.64 L477.95,482.27 L476.86,484.88 L475.73,487.47 L474.59,490.02 L473.42,492.54 L472.24,495.02 L471.06,497.46 L469.89,499.84 L468.73,502.16 L467.59,504.41 L466.48,506.60 L465.41,508.70 L464.39,510.73 L463.41,512.66 L462.50,514.50 L461.97,515.58 L461.47,516.59 L461.01,517.53 L460.58,518.41 L460.16,519.25 L459.75,520.07 L459.36,520.86 L458.96,521.64 L458.55,522.43 L458.13,523.23 L457.70,524.06 L457.23,524.93 L456.74,525.84 L456.21,526.82 L455.63,527.87 L455.00,529.00 L453.63,531.43 L452.10,534.09 L450.42,536.97 L448.61,540.03 L446.69,543.26 L444.68,546.62 L442.59,550.10 L440.43,553.67 L438.24,557.30 L436.01,560.97 L433.77,564.66 L431.54,568.34 L430.23,570.51"/>
<polygon fill="#000" points="425.99,567.95 423.00,582.50 434.47,573.06"/>
<path d="M425.00,438.00 L423.85,439.56 L422.71,441.13 L421.56,442.69 L420.42,444.26 L419.27,445.82 L418.13,447.39 L416.98,448.95 L415.84,450.52 L414.69,452.08 L413.55,453.65 L412.40,455.21 L411.26,456.77 L410.11,458.34 L408.97,459.90 L407.82,461.47 L406.68,463.03 L405.53,464.60 L404.39,466.16 L403.24,467.73 L402.10,469.29 L400.95,470.85 L399.81,472.42 L398.66,473.98 L397.77,475.20"/>
<polygon fill="#000" points="393.77,472.28 389.50,486.50 401.76,478.13"/>
<path d="M439.00,438.00 L438.60,440.43 L438.21,442.84 L437.82,445.23 L437.44,447.62 L437.06,450.00 L436.68,452.39 L436.29,454.77 L435.91,457.16 L435.52,459.56 L435.13,461.98 L434.72,464.41 L434.31,466.87 L433.88,469.35 L433.44,471.86 L432.98,474.41 L432.50,477.00 L431.92,480.05 L431.32,483.14 L430.69,486.29 L430.04,489.47 L429.37,492.68 L428.68,495.93 L427.99,499.20 L427.29,502.49 L426.58,505.80 L425.87,509.12 L425.16,512.44 L424.46,515.77 L423.76,519.09 L423.08,522.41 L422.40,525.71 L421.75,529.00 L421.10,532.32 L420.46,535.65 L419.82,538.98 L419.19,542.31 L418.56,545.66 L417.93,549.00 L417.31,552.35 L416.69,555.70 L416.08,559.05 L415.46,562.40 L414.85,565.75 L414.30,568.73"/>
<polygon fill="#000" points="409.43,567.83 411.75,582.50 419.16,569.63"/>
<path d="M379.50,534.50 L380.06,536.05 L380.63,537.60 L381.19,539.15 L381.76,540.69 L382.32,542.24 L382.89,543.79 L383.45,545.34 L384.02,546.89 L384.58,548.44 L385.15,549.98 L385.71,551.53 L386.27,553.08 L386.84,554.63 L387.40,556.18 L387.97,557.73 L388.53,559.27 L389.10,560.82 L389.66,562.37 L390.23,563.92 L390.79,565.47 L391.35,567.02 L391.92,568.56 L392.20,569.35"/>
<polygon fill="#000" points="387.55,571.04 397.00,582.50 396.86,567.65"/>
<path d="M440.30,126.60 L442.51,126.60 L447.91,126.60 L453.32,126.60 L458.72,126.60 L464.12,126.60 L469.53,126.60 L474.93,126.60 L480.33,126.60 L485.74,126.60 L491.14,126.60 L496.54,126.60 L501.95,126.60 L507.35,126.60 L512.75,126.60 L518.15,126.60 L523.56,126.60 L528.96,126.60 L534.36,126.60 L539.77,126.60 L545.17,126.60 L550.57,126.60 L555.98,126.60 L561.38,126.60 L566.78,126.60 L572.19,126.60 L577.59,126.60 L579.80,126.60"/>
<polygon fill="#000" points="579.80,131.55 593.80,126.60 579.80,121.65"/>
<polygon fill="#000" points="440.30,121.65 426.30,126.60 440.30,131.55"/>
</g>
<g font-size="12" text-anchor="middle" >
<text x="432.2" y="95.4">1</text>
<text x="424.8" y="50.7">1</text>
<text x="300.9" y="183.8">3</text>
<text x="135.0" y="283.7">1</text>
<text x="608.0" y="86.0">1</text>
<text x="500.0" y="400.0">1</text>
<text x="462.5" y="609.5">251</text>
<text x="575.0" y="121.4">2</text>
<text x="446.5" y="138.2">10</text>
<text x="336.0" y="195.0">1</text>
<text x="152.1" y="289.6">6</text>
<text x="354.3" y="591.9">97</text>
<text x="380.4" y="471.0">1</text>
<text x="444.5" y="373.8">2</text>
<text x="483.0" y="278.0">1</text>
<text x="349.0" y="218.8">13</text>
<text x="529.0" y="287.5">3</text>
<text x="500.8" y="411.8">26</text>
<text x="427.4" y="499.5">25</text>
<text x="461.3" y="613.8">25</text>
<text x="169.0" y="296.2">4</text>
<text x="235.8" y="250.8">1</text>
<text x="445.9" y="289.5">1</text>
<text x="420.0" y="373.8">1</text>
<text x="366.3" y="470.0">1</text>
<text x="362.2" y="570.6">160</text>
<text x="393.0" y="393.0">2</text>
<text x="355.0" y="595.0">18</text>
<text x="441.2" y="574.5">70</text>
<text x="408.2" y="480.0">12</text>
<text x="422.1" y="570.0">1171</text>
<text x="400.0" y="565.5">135</text>
</g>
</svg>
</body></html>
